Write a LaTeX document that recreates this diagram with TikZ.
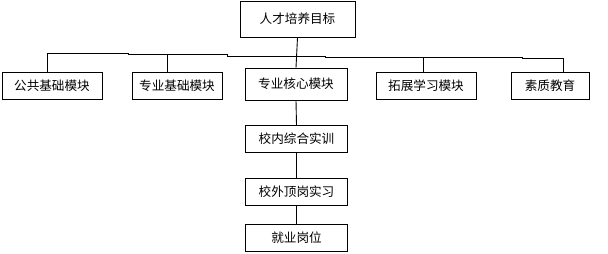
\documentclass[tikz,border=0pt]{standalone}
\usepackage{fontspec}
\newfontfamily\cjk{Noto Sans CJK SC}
\begin{document}
\begin{tikzpicture}[x=1pt,y=-1pt,
  box/.style={draw, line width=0.9pt, inner sep=0pt, minimum height=26.5pt,
    font=\cjk\fontsize{12.6}{12.6}\selectfont},
  conn/.style={line width=0.9pt}]
\useasboundingbox[fill=white] (0,0) rectangle (608,254);
\node[box, minimum width=115pt, minimum height=36pt] (goal) at (297.5,19) {人才培养目标};
\node[box, minimum width=100pt] (b1) at (52,86) {公共基础模块};
\node[box, minimum width=90pt] (b2) at (177,86) {专业基础模块};
\node[box, minimum width=102pt, minimum height=32pt] (b3) at (296,84) {专业核心模块};
\node[box, minimum width=100pt] (b4) at (426,86) {拓展学习模块};
\node[box, minimum width=78pt] (b5) at (550,86) {素质教育};
\node[box, minimum width=102.5pt] (c1) at (296.5,139) {校内综合实训};
\node[box, minimum width=102.5pt, minimum height=27pt] (c2) at (296.5,191.7) {校外顶岗实习};
\node[box, minimum width=102.5pt] (c3) at (296.5,238) {就业岗位};
\draw[conn] (goal.south) -- (b3.north);
\draw[conn] (47,0 |- b1.north) -- (47,53.3) -- (128,53.3) -- (128,54.7) -- (227,54.7)
  -- (227,56) -- (325,56) -- (325,57) -- (522,57) -- (522,58.3) -- (563,58.3)
  -- (563,0 |- b5.north);
\draw[conn] (167,54.7) -- (167,0 |- b2.north);
\draw[conn] (423,57) -- (423,0 |- b4.north);
\draw[conn] (b3.south) -- (c1.north);
\draw[conn] (c1.south) -- (c2.north);
\draw[conn] (c2.south) -- (c3.north);
\end{tikzpicture}
\end{document}
